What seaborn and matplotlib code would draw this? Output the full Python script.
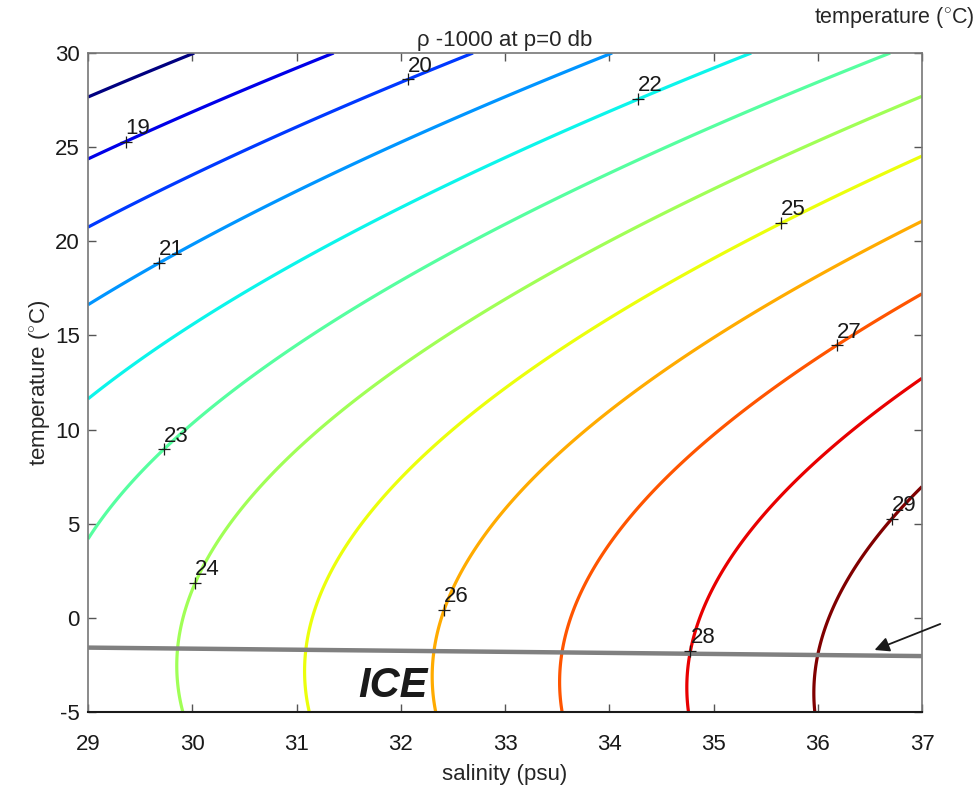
import numpy as np
import pandas as pd
import matplotlib
matplotlib.use("Agg")
import matplotlib.pyplot as plt
import seaborn as sns

# Axis ranges of the T-S diagram
salinity_range = [29, 37]
temperature_range = [-5, 30]
salinity_ticks = [29, 30, 31, 32, 33, 34, 35, 36, 37]
temperature_ticks = [-5, 0, 5, 10, 15, 20, 25, 30]

# sigma (rho - 1000) contour levels
sigma_levels = [18, 19, 20, 21, 22, 23, 24, 25, 26, 27, 28, 29]

# where each level is labelled (salinity, temperature)
label_levels = [19, 20, 21, 22, 23, 24, 25, 26, 27, 28, 29]
label_salinity = [29.33, 32.06, 29.66, 34.28, 29.72, 30.01, 35.64, 32.40, 36.18, 34.80, 36.69]
label_temperature = [25.5, 28.7, 18.9, 27.5, 9.0, 1.85, 21.0, 0.42, 14.5, -1.8, 5.3]

# freezing point of sea water at the surface
freeze_salinity = [29, 37]
freeze_temperature = [-1.58, -2.03]

# UNESCO (1983) equation of state at p = 0
RHO_W = [999.842594, 6.793952e-2, -9.095290e-3, 1.001685e-4, -1.120083e-6, 6.536332e-9]
COEF_S = [0.824493, -4.0899e-3, 7.6438e-5, -8.2467e-7, 5.3875e-9]
COEF_S15 = [-5.72466e-3, 1.0227e-4, -1.6546e-6]
COEF_S2 = 4.8314e-4


def poly(c, t):
    return sum(ci * t ** i for i, ci in enumerate(c))


def sigma0(s, t):
    rho = poly(RHO_W, t) + s * poly(COEF_S, t) + s ** 1.5 * poly(COEF_S15, t) + COEF_S2 * s ** 2
    return rho - 1000.0


sns.set_theme(style="ticks")
plt.rcParams["font.family"] = ["Liberation Sans", "DejaVu Sans"]
plt.rcParams["mathtext.fontset"] = "custom"
plt.rcParams["mathtext.rm"] = "Liberation Sans"
plt.rcParams["axes.unicode_minus"] = False

fig = plt.figure(figsize=(9.79, 7.87), dpi=100)
ax = fig.add_axes([88 / 979, 1 - 712 / 787, (922 - 88) / 979, (712 - 53) / 787])

S, T = np.meshgrid(np.linspace(*salinity_range, 400), np.linspace(*temperature_range, 400))
Z = sigma0(S, T)
colors = plt.get_cmap("jet")(np.linspace(0, 1, len(sigma_levels)))
cs = ax.contour(S, T, Z, levels=sigma_levels, colors=colors, linewidths=2.3)

# MATLAB-style labels: a "+" on the contour with the value next to it
for lev, s0, t0 in zip(label_levels, label_salinity, label_temperature):
    segs = cs.allsegs[sigma_levels.index(lev)]
    pts = np.vstack(segs)
    d = ((pts[:, 0] - s0) / 8) ** 2 + ((pts[:, 1] - t0) / 35) ** 2
    ps, pt = pts[np.argmin(d)]
    ax.plot(ps, pt, marker="+", color="k", ms=9, mew=0.9, zorder=6)
    ax.annotate(str(lev), (ps, pt), xytext=(0, 2), textcoords="offset points",
                ha="left", va="bottom", fontsize=16, color="k", zorder=7)

freeze = pd.DataFrame({"salinity": freeze_salinity, "temperature": freeze_temperature})
sns.lineplot(data=freeze, x="salinity", y="temperature", color="#808080", lw=3.2, ax=ax, zorder=5)

ax.text(31.93, -3.62, "ICE", fontsize=30, fontweight="bold", fontstyle="italic",
        ha="center", va="center", color="k")

ax.annotate("", xy=(36.52, -1.76), xytext=(37.20, -0.27),
            arrowprops=dict(arrowstyle="-|>", color="k", lw=1.3, mutation_scale=22),
            annotation_clip=False, zorder=8)

ax.set_xlim(*salinity_range)
ax.set_ylim(*temperature_range)
ax.set_xticks(salinity_ticks)
ax.set_yticks(temperature_ticks)
ax.tick_params(direction="in", length=6, width=1, top=True, right=True,
               labelsize=16, colors="#555555", labelcolor="k")
ax.tick_params(axis="x", pad=16)
ax.tick_params(axis="y", pad=6)
for side in ["left", "top", "right"]:
    ax.spines[side].set_color("#777777")
    ax.spines[side].set_linewidth(1.2)
ax.spines["bottom"].set_color("k")
ax.spines["bottom"].set_linewidth(1.5)

ax.set_xlabel("salinity (psu)", fontsize=16, labelpad=6)
ax.set_ylabel("temperature ($^{\\circ}$C)", fontsize=16, labelpad=2)
ax.set_title("ρ -1000 at p=0 db", fontsize=16, pad=5)

fig.text(975 / 979, 1 - 17 / 787, "temperature ($^{\\circ}$C)", fontsize=15.5,
         ha="right", va="center")

fig.savefig("out.png", dpi=100, facecolor="white")
